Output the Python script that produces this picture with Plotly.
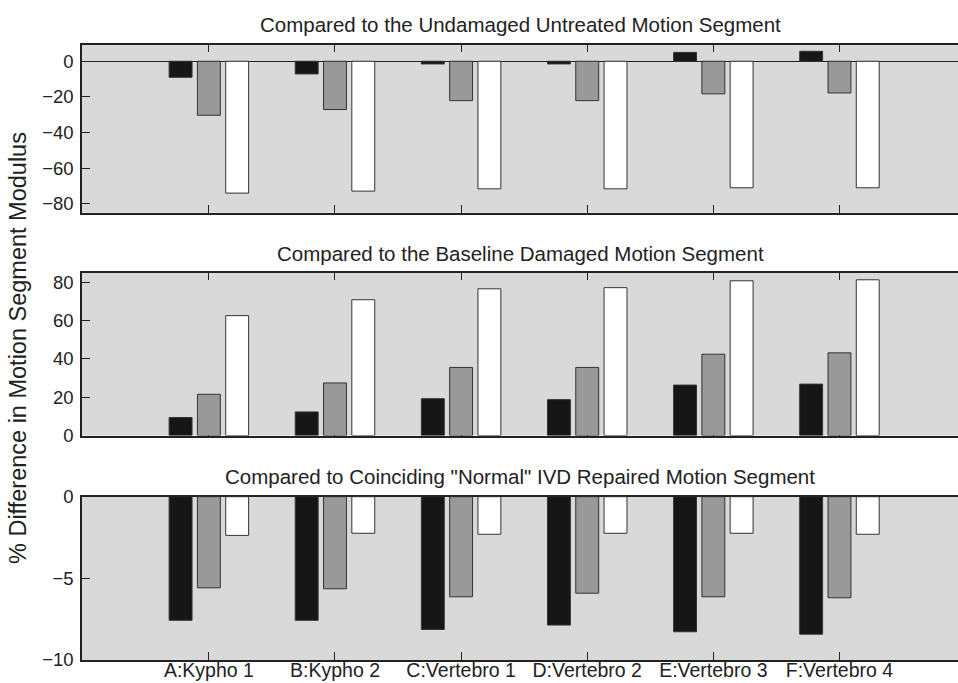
import plotly.graph_objects as go

categories = ["A:Kypho 1", "B:Kypho 2", "C:Vertebro 1", "D:Vertebro 2", "E:Vertebro 3", "F:Vertebro 4"]

# Panel 1: vs. undamaged untreated motion segment
undamaged_dark = [-9.0, -7.1, -1.5, -1.5, 5.0, 5.6]
undamaged_mid = [-30.3, -27.1, -22.1, -22.1, -18.3, -17.8]
undamaged_light = [-74.0, -72.9, -71.6, -71.6, -71.0, -71.0]

# Panel 2: vs. baseline damaged motion segment
baseline_dark = [9.4, 12.3, 19.2, 18.7, 26.3, 26.8]
baseline_mid = [21.5, 27.4, 35.5, 35.5, 42.4, 43.1]
baseline_light = [62.5, 70.8, 76.5, 77.1, 80.7, 81.2]

# Panel 3: vs. coinciding "normal" IVD repaired motion segment
repaired_dark = [-7.57, -7.57, -8.13, -7.86, -8.27, -8.42]
repaired_mid = [-5.58, -5.64, -6.13, -5.91, -6.13, -6.19]
repaired_light = [-2.37, -2.24, -2.30, -2.24, -2.24, -2.30]

panel_titles = [
    "Compared to the Undamaged Untreated Motion Segment",
    "Compared to the Baseline Damaged Motion Segment",
    "Compared to Coinciding \"Normal\" IVD Repaired Motion Segment",
]
y_title = "% Difference in Motion Segment Modulus"

W, H = 958, 683
FONT = "Liberation Sans, Arial, sans-serif"
INK = "#222222"
fills = ["#161616", "#999999", "#ffffff"]
names = ["Dark", "Medium", "Light"]

panels = [
    (undamaged_dark, undamaged_mid, undamaged_light),
    (baseline_dark, baseline_mid, baseline_light),
    (repaired_dark, repaired_mid, repaired_light),
]
# pixel extents (top, bottom) of each plotting area
pix = [(44.7, 212.7), (272.7, 435.5), (496.7, 660.0)]
yranges = [[-85, 9.3], [0, 84.9], [-10, 0]]
ytickvals = [[-80, -60, -40, -20, 0], [0, 20, 40, 60, 80], [-10, -5, 0]]
title_y = [24, 254, 476]

fig = go.Figure()
layout = dict(
    width=W, height=H,
    margin=dict(l=82, r=0, t=0, b=0, autoexpand=False),
    paper_bgcolor="white",
    plot_bgcolor="#d9d9d9",
    barmode="group",
    bargap=0.327,
    bargroupgap=0.19,
    showlegend=False,
    font=dict(family=FONT, size=18, color=INK),
    annotations=[],
)

for i, series in enumerate(panels):
    n = "" if i == 0 else str(i + 1)
    for vals, col, nm in zip(series, fills, names):
        fig.add_trace(go.Bar(
            x=categories, y=vals, name=nm,
            marker=dict(color=col, line=dict(color="#333333", width=1)),
            xaxis="x" + n, yaxis="y" + n,
        ))
    top, bot = pix[i]
    dom = [1 - bot / H, 1 - top / H]
    layout["xaxis" + n] = dict(
        domain=[0, 1], anchor="y" + n, range=[-1.006, 5.94],
        type="category",
        showline=True, linecolor=INK, linewidth=1.5, mirror="ticks",
        ticks="inside", ticklen=8, tickwidth=1, tickcolor=INK,
        showticklabels=(i == 2), showgrid=False, zeroline=False,
        tickfont=dict(family=FONT, size=19.5, color=INK),
        ticklabelstandoff=-8,
        layer="below traces",
    )
    layout["yaxis" + n] = dict(
        domain=dom, anchor="x" + n, range=yranges[i],
        tickvals=ytickvals[i],
        showline=True, linecolor=INK, linewidth=1.5, mirror=False,
        ticks="inside", ticklen=8, tickwidth=1, tickcolor=INK,
        showgrid=False,
        zeroline=(i == 0), zerolinecolor=INK, zerolinewidth=1,
        tickfont=dict(family=FONT, size=18.5, color=INK),
        ticklabelstandoff=3,
        layer="below traces",
    )
    layout["annotations"].append(dict(
        text=panel_titles[i], xref="paper", yref="paper",
        x=0.5, y=1 - title_y[i] / H, xanchor="center", yanchor="middle",
        showarrow=False, font=dict(family=FONT, size=20.5, color=INK),
    ))

layout["annotations"].append(dict(
    text=y_title, xref="paper", yref="paper",
    x=-64 / (W - 82), y=1 - 348 / H, xanchor="center", yanchor="middle",
    textangle=-90, showarrow=False,
    font=dict(family=FONT, size=23.5, color=INK),
))

fig.update_layout(**layout)
fig.write_html("out.html")
